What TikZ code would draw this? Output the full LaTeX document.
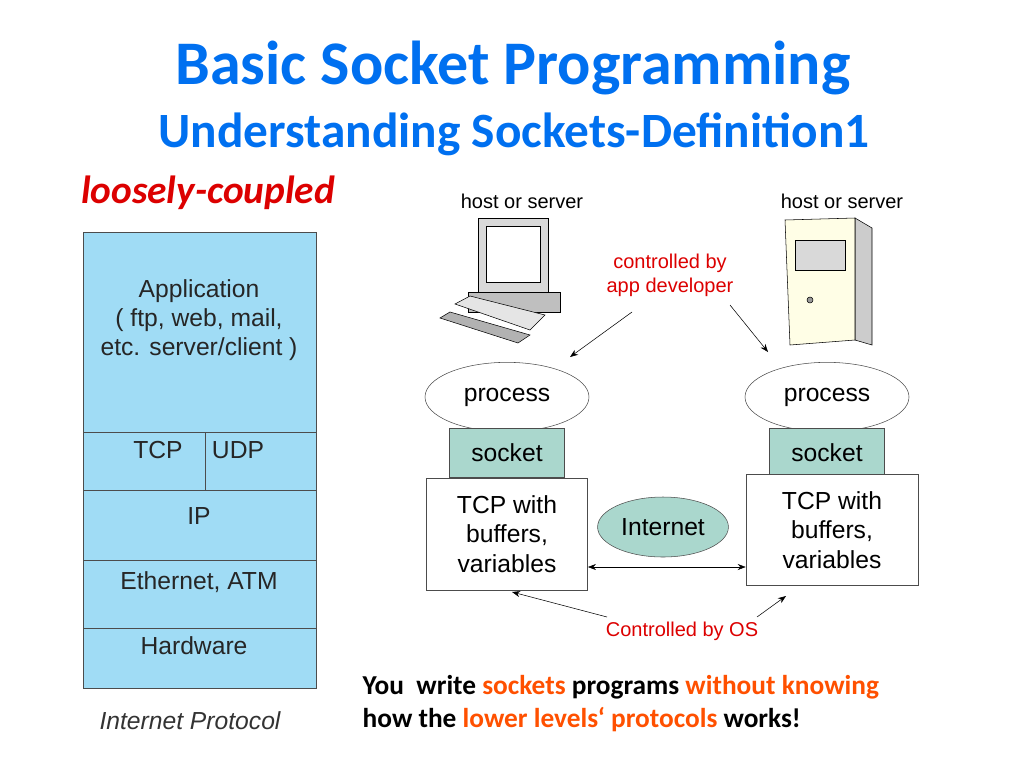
\documentclass[tikz,border=0pt]{standalone}
\usepackage{fontspec}
\setmainfont{Liberation Sans}
\newfontfamily\calfont{Carlito}
\usetikzlibrary{arrows.meta,shapes.geometric}
\definecolor{ttl}{RGB}{0,112,240}
\definecolor{stk}{RGB}{160,220,245}
\definecolor{sock}{RGB}{170,215,205}
\definecolor{rd}{RGB}{220,0,0}
\definecolor{org}{RGB}{255,80,0}
\begin{document}
\begin{tikzpicture}[x=0.75pt,y=-0.75pt,
  layer/.style={draw=black!70,fill=stk},
  lbl/.style={font=\fontsize{18.5}{22}\selectfont,align=center,text=black!85},
  sk/.style={draw=black!70,fill=sock,minimum width=86pt,minimum height=37pt,font=\fontsize{18.5}{22}\selectfont},
  tcp/.style={draw=black!70,fill=white,align=center,font=\fontsize{18.5}{22}\selectfont},
  proc/.style={draw=black!70,fill=white,ellipse,font=\fontsize{18.5}{22}\selectfont},
  rarr/.style={-{Stealth[length=6pt]},black},
  rlbl/.style={text=rd,font=\fontsize{15}{18}\selectfont,align=center}]
\useasboundingbox (0,0) rectangle (1024,768);
\node[text=ttl,font=\calfont\bfseries\fontsize{46.5}{52}\selectfont] (t1) at (513,68) {Basic Socket Programming};
\node[text=ttl,font=\calfont\bfseries\fontsize{37}{42}\selectfont] (t2) at (514,134) {Understanding Sockets-Definition1};
\node[text=rd,font=\calfont\bfseries\itshape\fontsize{29.5}{34}\selectfont] (lc) at (208,193) {loosely-coupled};
% stack
\draw[layer] (83,232) rectangle (316,432);
\draw[layer] (83,432) rectangle (205,490);
\draw[layer] (205,432) rectangle (316,490);
\draw[layer] (83,490) rectangle (316,560);
\draw[layer] (83,560) rectangle (316,628);
\draw[layer] (83,628) rectangle (316,688);
\node[lbl] (app) at (199,320) {Application\\( ftp, web, mail,\\etc. server/client )};
\node[lbl] (tcpl) at (158,450) {TCP};
\node[lbl] (udp) at (238,450) {UDP};
\node[lbl] (ip) at (199,516) {IP};
\node[lbl] (eth) at (199,582) {Ethernet, ATM};
\node[lbl] (hw) at (194,646) {Hardware};
\node[font=\itshape\fontsize{18.5}{22}\selectfont,text=black!80] (ipt) at (190,721) {Internet Protocol};
% hosts
\node[font=\fontsize{15}{18}\selectfont] (h1) at (522,201) {host or server};
\node[font=\fontsize{15}{18}\selectfont] (h2) at (842,201) {host or server};
% PC
\draw[fill=black!15] (478,218) rectangle (548,292);
\draw[fill=white] (486,226) rectangle (540,282);
\draw[fill=black!25] (468,292) rectangle (560,312);
\draw[fill=black!10] (455,304) -- (470,296) -- (545,315) -- (530,330) -- cycle;
\draw[fill=black!30] (440,318) -- (450,312) -- (530,335) -- (518,343) -- cycle;
% server
\draw[fill=black!20] (855,218) -- (872,228) -- (872,345) -- (855,340) -- cycle;
\draw[fill=yellow!10!white] (785,220) -- (855,218) -- (855,340) -- (790,345) -- cycle;
\draw[fill=black!15] (795,240) rectangle (845,270);
\draw[fill=black!40] (810,300) circle (3);
% process
\node[proc,minimum width=123pt,minimum height=52pt] (p1) at (507,397) {process};
\node[proc,minimum width=123pt,minimum height=52pt] (p2) at (827,397) {process};
\node[sk] (s1) at (507,453) {socket};
\node[sk] (s2) at (827,453) {socket};
\node[tcp,minimum width=121pt,minimum height=84pt] (c1) at (507,534) {TCP with\\buffers,\\variables};
\node[tcp,minimum width=129pt,minimum height=83pt] (c2) at (832,530) {TCP with\\buffers,\\variables};
\node[proc,fill=sock,minimum width=86pt,minimum height=45pt] (inet) at (663,527) {Internet};
\draw[{Stealth[length=6pt]}-{Stealth[length=6pt]}] (c1.east |- 0,567) -- (c2.west |- 0,567);
% red labels
\node[rlbl] (ad) at (670,275) {controlled by\\app developer};
\coordinate (a1) at (632,312); \coordinate (a1e) at (570,357);
\coordinate (a2) at (730,305); \coordinate (a2e) at (768,352);
\draw[rarr] (a1) -- (a1e);
\draw[rarr] (a2) -- (a2e);
\node[rlbl] (os) at (682,631) {Controlled by OS};
\coordinate (o1) at (607,617); \coordinate (o1e) at (512,592);
\coordinate (o2) at (757,617); \coordinate (o2e) at (786,596);
\draw[rarr] (o1) -- (o1e);
\draw[rarr] (o2) -- (o2e);
% bottom
\node[anchor=west,font=\calfont\bfseries\fontsize{20.5}{24}\selectfont] (b1) at (358,687) {You\ \ write \textcolor{org}{sockets} programs \textcolor{org}{without knowing}};
\node[anchor=west,font=\calfont\bfseries\fontsize{20.5}{24}\selectfont] (b2) at (358,720) {how the \textcolor{org}{lower levels‘ protocols} works!};
\end{tikzpicture}
\end{document}
